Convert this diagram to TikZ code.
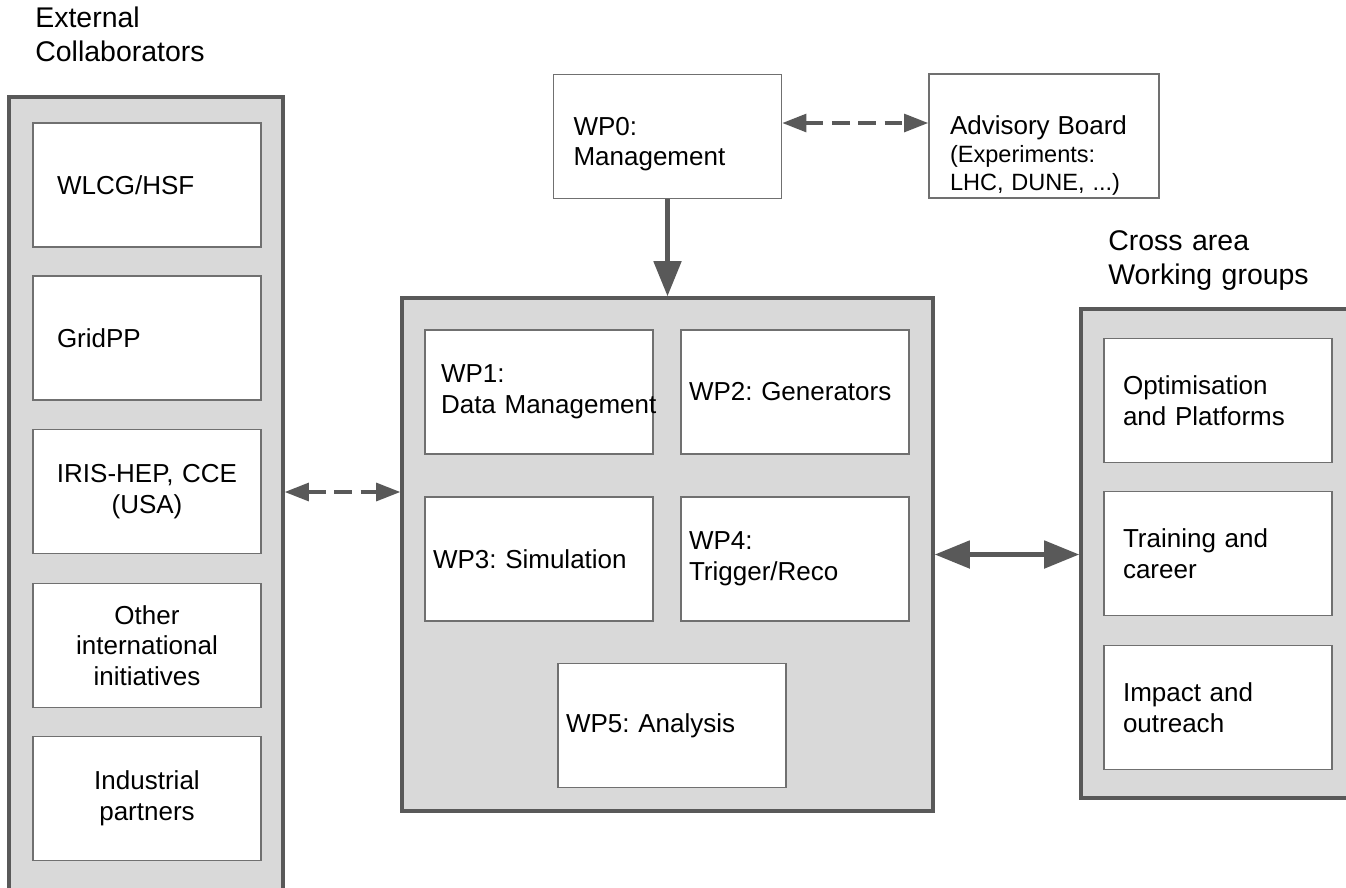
\documentclass[tikz,border=0pt]{standalone}
\usepackage{fontspec}
\setmainfont{Liberation Sans}
\usetikzlibrary{arrows.meta, positioning}
\frenchspacing

\definecolor{linegray}{HTML}{595959}
\definecolor{boxgray}{HTML}{707070}
\definecolor{panelgray}{HTML}{D9D9D9}

\newcommand{\bodyfont}{\fontsize{14.8pt}{17.5pt}\selectfont}
\newcommand{\notefont}{\fontsize{13.4pt}{16pt}\selectfont}
\newcommand{\headfont}{\fontsize{16.2pt}{19.5pt}\selectfont}

\tikzset{
  panel/.style={draw=linegray, line width=2pt, fill=panelgray, inner sep=0pt},
  wpbox/.style={draw=boxgray, line width=1pt, fill=white, minimum width=4.56cm,
    minimum height=2.48cm, inner ysep=0pt, font=\bodyfont, align=left},
  narrow/.style={inner xsep=0.16cm, text width=4.24cm},
  wide/.style={inner xsep=0.4cm, text width=3.76cm},
  extbox/.style={wpbox, inner xsep=0.48cm, text width=3.6cm},
  wgbox/.style={wpbox, inner xsep=0.38cm, text width=3.8cm},
  heading/.style={font=\headfont, inner sep=0pt, text width=4.4cm, align=left, anchor=base west},
  bigarrow/.style={draw=linegray, line width=2.8pt, >={Triangle[length=20pt, width=15.4pt]}},
  dashlink/.style={draw=linegray, line width=1.8pt, dash pattern=on 10pt off 5pt,
    >={Triangle[length=13.7pt, width=10.2pt]}, <->}
}

\begin{document}
\begin{tikzpicture}[x=0.02cm, y=-0.02cm]
        \useasboundingbox (0,0) rectangle (1346,887);

% Headings
        \node[heading] (exthead) at (35,27) {External\\Collaborators};
        \node[heading] (wghead) at (1108,250) {Cross area\\Working groups};

% External collaborators
        \node[panel, minimum width=5.48cm, minimum height=16.28cm] (ext) at (146,504) {};
        \node[extbox] (wlcg) at (147,185) {WLCG/HSF};
        \node[extbox] (gridpp) at (147,338) {GridPP};
        \node[wpbox, narrow, align=center] (iris) at (147,491.5) {IRIS-HEP, CCE\\(USA)};
        \node[wpbox, narrow, align=center] (other) at (147,645.5) {Other\\international\\initiatives};
        \node[wpbox, narrow, align=center] (industry) at (147,798.5) {Industrial\\partners};

% Management and advisory board
        \node[wpbox, wide] (wp0) at (667.5,136.5) {\rule{0pt}{19pt}WP0:\\Management};
        \node[wpbox, wide, font=\notefont, minimum width=4.6cm] (adv) at (1044,136)
          {\rule{0pt}{33pt}{\bodyfont Advisory Board}\\(Experiments:\\LHC, DUNE, ...)};

% Work packages
        \node[panel, minimum width=10.62cm, minimum height=10.26cm] (core) at (667.5,554.5) {};
        \node[wpbox, inner xsep=0.32cm, text width=3.92cm] (wp1) at (539,392) {WP1:\\\mbox{Data Management}};
        \node[wpbox, narrow] (wp2) at (795,392) {WP2: Generators};
        \node[wpbox, narrow] (wp3) at (539,559) {WP3: Simulation};
        \node[wpbox, narrow] (wp4) at (795,559) {WP4:\\Trigger/Reco};
        \node[wpbox, narrow] (wp5) at (672,725.5) {WP5: Analysis};

% Cross area working groups
        \node[panel, minimum width=5.7cm, minimum height=9.78cm] (wg) at (1223.5,553.5) {};
        \node[wgbox] (optim) at (1218,400.5) {Optimisation\\and Platforms};
        \node[wgbox] (train) at (1218,553.5) {Training and\\career};
        \node[wgbox] (impact) at (1218,707.5) {Impact and\\outreach};

% Arrows
        \coordinate (advlink) at (0,123);
        \coordinate (extlink) at (0,492);
        \draw[bigarrow, ->] (wp0.south) -- (core.north);
        \draw[dashlink] (wp0.east |- advlink) -- (adv.west |- advlink);
        \draw[dashlink] (ext.east |- extlink) -- (core.west |- extlink);
        \draw[bigarrow, <->] (core.east) -- (core.east -| wg.west);

\end{tikzpicture}
\end{document}
